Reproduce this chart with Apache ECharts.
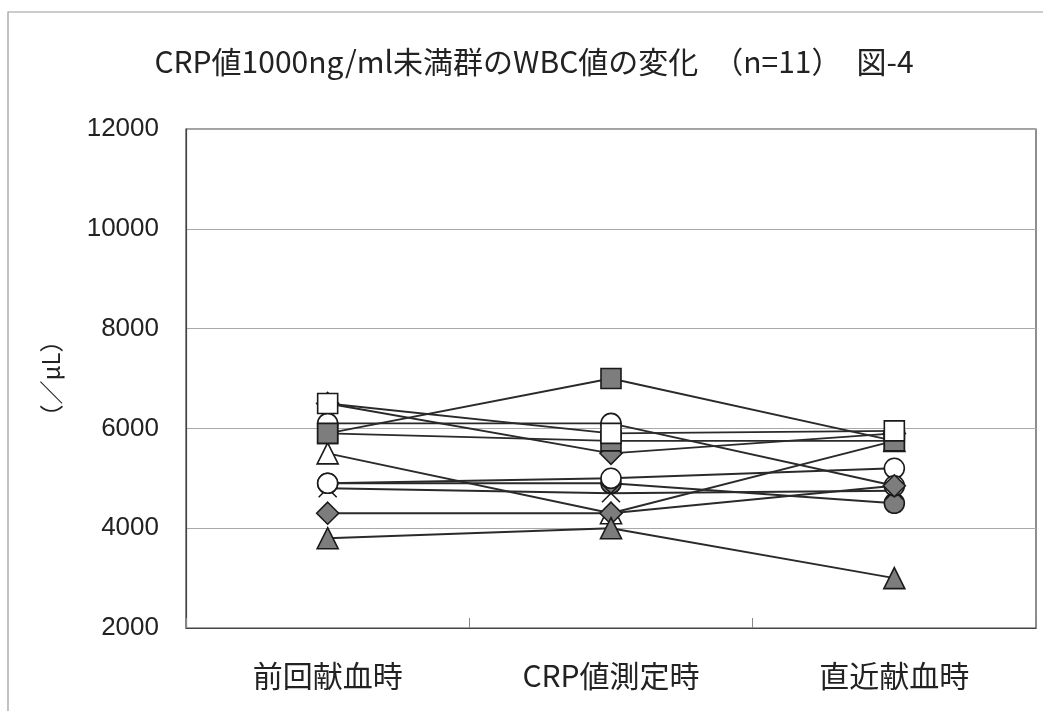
<!DOCTYPE html>
<html>
<head>
<meta charset="utf-8">
<script src="https://cdn.jsdelivr.net/npm/echarts@6/dist/echarts.min.js"></script>
<style>
html,body{margin:0;padding:0;background:#fff;}
#c{width:1043px;height:711px;}
</style>
</head>
<body>
<div id="c"></div>
<script>
// ---- data ----
const categories = ['前回献血時', 'CRP値測定時', '直近献血時'];
const yTicks = [2000, 4000, 6000, 8000, 10000, 12000];
const titleText = 'CRP値1000ng/ml未満群のWBC値の変化　（n=11）　図-4';
const yName = '（／μL）';

// 11 donors (marker style per donor listed separately)
const donorA = [6500, 5500, 5900];   // gray diamond
const donorB = [5900, 5750, 5750];   // gray square
const donorC = [5500, 4300, 5750];   // white triangle
const donorD = [4900, 4900, 4500];   // gray circle
const donorE = [4800, 4700, 4750];   // cross
const donorF = [4900, 5000, 5200];   // white circle
const donorG = [6100, 6100, 4850];   // white circle
const donorH = [4300, 4300, 4850];   // gray diamond
const donorI = [5900, 7000, 5750];   // gray square
const donorJ = [6500, 5900, 5950];   // white square
const donorK = [3800, 4000, 3000];   // gray triangle

const donors = [donorA, donorB, donorC, donorD, donorE, donorF, donorG, donorH, donorI, donorJ, donorK];
const markerShapes = ['diamond', 'rect', 'triangle', 'circle', 'cross', 'circle', 'circle', 'diamond', 'rect', 'rect', 'triangle'];
const markerFilled = [true, true, false, true, false, false, false, true, true, false, true];

// ---- styling ----
const GRAY = '#7d7d7d';
const LINE = '#2a2a2a';
const symbolMap = {
  rect: 'rect',
  circle: 'circle',
  triangle: 'triangle',
  diamond: 'diamond',
  cross: 'path://M0,0L10,10M10,0L0,10'
};
const sizeMap = { rect: 20, circle: 20, triangle: 21, diamond: 22, cross: 18 };

const series = donors.map((d, i) => {
  const shape = markerShapes[i];
  const filled = markerFilled[i];
  return {
    type: 'line',
    data: d,
    symbol: symbolMap[shape],
    symbolSize: sizeMap[shape],
    showAllSymbol: true,
    lineStyle: { color: LINE, width: 1.9 },
    itemStyle: {
      color: shape === 'cross' ? 'rgba(0,0,0,0)' : (filled ? GRAY : '#ffffff'),
      borderColor: '#1a1a1a',
      borderWidth: 1.6
    },
    emphasis: { disabled: true },
    animation: false
  };
});

const chart = echarts.init(document.getElementById('c'));
chart.setOption({
  backgroundColor: '#ffffff',
  animation: false,
  grid: {
    left: 186, right: 7, top: 129, bottom: 83,
    show: true, borderColor: '#444', borderWidth: 1.2
  },
  graphic: [
    {
      type: 'rect', silent: true, z: -10,
      shape: { x: 8, y: 12, width: 1100, height: 800 },
      style: { fill: 'none', stroke: '#999', lineWidth: 1.2 }
    },
    {
      type: 'text', silent: true,
      x: 534, y: 62,
      style: {
        text: titleText,
        fill: '#222',
        font: '30px "Noto Sans CJK JP", "Liberation Sans", sans-serif',
        align: 'center', verticalAlign: 'middle'
      }
    }
  ],
  xAxis: {
    type: 'category',
    data: categories,
    boundaryGap: true,
    axisLine: { lineStyle: { color: '#444', width: 1.2 } },
    axisTick: { show: true, inside: true, length: 10, lineStyle: { color: '#888' } },
    axisLabel: {
      margin: 33,
      fontSize: 30,
      color: '#222',
      fontFamily: '"Noto Sans CJK JP", sans-serif'
    },
    splitLine: { show: false }
  },
  yAxis: {
    type: 'value',
    min: yTicks[0],
    max: yTicks[yTicks.length - 1],
    interval: 2000,
    name: yName,
    nameLocation: 'middle',
    nameRotate: 90,
    nameGap: 123,
    nameTextStyle: { fontSize: 24, color: '#222', fontFamily: '"Noto Sans CJK JP", sans-serif' },
    axisLine: { show: true, lineStyle: { color: '#444', width: 1.2 } },
    axisTick: { show: false },
    axisLabel: {
      margin: 27,
      fontSize: 26,
      color: '#222',
      fontFamily: '"Liberation Sans", Arial, sans-serif',
      formatter: function (v) { return String(v); }
    },
    splitLine: { show: true, lineStyle: { color: '#a8a8a8', width: 1 } }
  },
  series: series
});
</script>
</body>
</html>
